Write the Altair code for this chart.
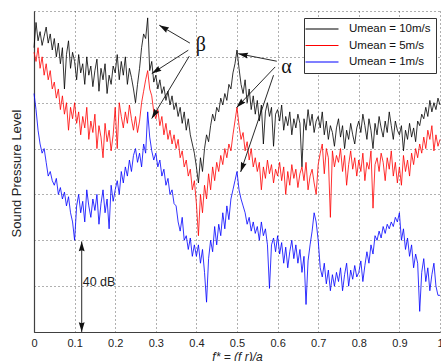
import math
import altair as alt
import pandas as pd

# ---------------- data ----------------
FREQ_STEP = 0.005
freq = [round(i * FREQ_STEP, 3) for i in range(201)]

spl_10ms = [
    124, 135, 127, 131, 125, 129, 133, 126, 130, 123,
    128, 120, 126, 117, 124, 106, 121, 127, 115, 122,
    118, 110, 121, 113, 117, 108, 120, 112, 116, 107,
    114, 119, 105, 115, 110, 117, 104, 112, 108, 116,
    113, 121, 110, 118, 112, 120, 108, 115, 111, 106,
    100, 108, 115, 124, 130, 128, 137, 114, 118, 109,
    112, 106, 110, 104, 107, 101, 105, 99, 103, 97,
    100, 94, 98, 91, 96, 88, 93, 86, 82, 78,
    72, 65, 76, 70, 80, 86, 83, 90, 95, 92,
    98, 96, 102, 99, 104, 101, 108, 106, 113, 117,
    123, 115, 108, 104, 110, 100, 106, 97, 103, 95,
    101, 92, 99, 82, 96, 100, 94, 98, 81, 95,
    97, 92, 99, 88, 94, 90, 96, 86, 93, 89,
    95, 91, 72, 93, 88, 97, 90, 95, 87, 92,
    94, 89, 96, 86, 92, 84, 90, 87, 81, 89,
    93, 85, 90, 80, 88, 84, 91, 86, 82, 89,
    92, 87, 95, 90, 84, 93, 88, 80, 91, 86,
    94, 89, 85, 92, 87, 96, 90, 84, 92, 88,
    86, 90, 79, 88, 84, 91, 85, 89, 83, 92,
    90, 95, 93, 98, 94, 101, 96, 100, 97, 102,
    99,
]

spl_5ms = [
    122, 118, 124, 115, 120, 112, 117, 110, 114, 106,
    109, 102, 106, 97, 103, 95, 100, 88, 98, 93,
    100, 91, 96, 86, 94, 89, 98, 84, 92, 87,
    95, 80, 90, 85, 76, 91, 83, 88, 79, 86,
    98, 80, 100, 94, 89, 96, 91, 99, 93, 88,
    94, 87, 92, 100, 105, 110, 114, 106, 103, 96,
    93, 97, 90, 94, 86, 91, 84, 88, 82, 86,
    80, 84, 76, 79, 72, 75, 68, 71, 62, 66,
    56, 42, 60, 52, 64, 58, 69, 62, 72, 66,
    74, 70, 77, 73, 80, 76, 82, 79, 86, 92,
    98, 90, 84, 87, 79, 83, 75, 80, 72, 76,
    70, 74, 62, 72, 67, 75, 69, 73, 65, 71,
    68, 74, 66, 72, 60, 70, 64, 73, 67, 71,
    63, 69, 72, 66, 74, 62, 68, 71, 65, 60,
    73, 78, 82, 69, 80, 76, 50, 79, 72, 77,
    74, 80, 70, 77, 64, 73, 79, 71, 76, 68,
    75, 70, 78, 66, 74, 71, 79, 54, 73, 76,
    70, 78, 74, 66, 76, 71, 79, 68, 74, 65,
    72, 64, 77, 70, 75, 68, 78, 73, 80, 76,
    82, 78, 85, 80, 88, 84, 90, 79, 86, 81,
    84,
]

spl_1ms = [
    104, 97, 88, 82, 78, 80, 74, 68, 70, 66,
    64, 67, 60, 63, 58, 61, 55, 59, 52, 48,
    40, 55, 60, 52, 57, 48, 62, 55, 50, 58,
    53, 60, 47, 56, 62, 52, 58, 45, 64, 57,
    62, 66, 60, 70, 65, 72, 68, 75, 70, 77,
    80, 74, 78, 72, 82, 78, 96, 85, 79, 75,
    78, 72, 75, 68, 71, 64, 67, 60, 62, 56,
    55, 48, 44, 50, 40, 42, 36, 41, 33, 38,
    33, 38, 30, 36, 26, 13, 32, 40, 35, 46,
    38, 47, 42, 52, 45, 55, 49, 58, 62, 66,
    70, 62, 58, 55, 52, 47, 50, 44, 48, 43,
    46, 40, 48, 42, 45, 38, 19, 38, 41, 35,
    42, 34, 39, 30, 37, 28, 35, 40, 32, 38,
    30, 36, 26, 33, 12, 31, 38, 44, 52, 48,
    40, 28, 24, 30, 21, 27, 18, 25, 20, 26,
    22, 28, 18, 25, 30, 20, 27, 23, 29, 24,
    26, 31, 22, 29, 35, 30, 38, 34, 42, 40,
    44, 41, 46, 43, 47, 45, 48, 46, 50, 48,
    52, 40, 45, 36, 41, 33, 38, 28, 34, 30,
    9, 26, 32, 22, 28, 18, 25, 30, 20, 16,
    16,
]

series_labels = ["Umean = 10m/s", "Umean = 5m/s", "Umean = 1m/s"]
series_colors = ["#000000", "#ff0000", "#0000ff"]
series_values = [spl_10ms, spl_5ms, spl_1ms]

x_tick_values = [0, 0.1, 0.2, 0.3, 0.4, 0.5, 0.6, 0.7, 0.8, 0.9, 1.0]
y_grid_values = [0, 20, 40, 60, 80, 100, 120, 140]

# annotation labels (data units)
label_f = [0.411, 0.622]
label_db = [122.4, 112.8]
label_text = ["β", "α"]

# annotation arrows: start -> tip (data units)
arrow_f1 = [0.384, 0.380, 0.3825, 0.598, 0.594, 0.590, 0.1175, 0.1175]
arrow_db1 = [126.0, 122.9, 120.3, 118.1, 115.6, 112.0, 20.0, 20.0]
arrow_f2 = [0.3086, 0.290, 0.290, 0.503, 0.499, 0.509, 0.1175, 0.1175]
arrow_db2 = [133.8, 112.7, 93.1, 121.4, 97.9, 69.8, 39.5, 0.0]

range_text_f = [0.12]
range_text_db = [21.9]
range_text = ["40 dB"]

# ---------------- layout ----------------
W, H = 406, 321
PX_PER_F = W / 1.0
PX_PER_DB = H / 140.0

for s in series_values:
    assert len(s) == len(freq)

lines_df = pd.concat(
    [pd.DataFrame({"f": freq, "db": vals, "series": lab})
     for lab, vals in zip(series_labels, series_values)],
    ignore_index=True,
)

arrows_df = pd.DataFrame({"f": arrow_f1, "db": arrow_db1, "f2": arrow_f2, "db2": arrow_db2})
heads = []
for a, b, c, d in zip(arrow_f1, arrow_db1, arrow_f2, arrow_db2):
    ang = math.degrees(math.atan2((c - a) * PX_PER_F, (d - b) * PX_PER_DB)) % 360
    heads.append({"f": c, "db": d, "angle": ang})
heads_df = pd.DataFrame(heads)
labels_df = pd.DataFrame({"f": label_f, "db": label_db, "text": label_text})
range_df = pd.DataFrame({"f": range_text_f, "db": range_text_db, "text": range_text})

x_scale = alt.Scale(domain=[0, 1], nice=False, zero=False)
y_scale = alt.Scale(domain=[0, 140], nice=False, zero=False)
color_scale = alt.Scale(domain=series_labels, range=series_colors)

x_enc = alt.X(
    "f:Q", scale=x_scale,
    axis=alt.Axis(
        values=x_tick_values, format="~g", grid=True, ticks=False,
        labelFlush=False, labelPadding=5, labelFontSize=11,
        labelFont="Liberation Sans", labelColor="#222222",
        title="f* = (f r)/a", titleFont="Liberation Sans", titleFontSize=12,
        titleFontStyle="italic", titleFontWeight="normal", titleColor="#222222",
        titleX=203, titleY=19, titleBaseline="top", titleAlign="center",
    ),
)
y_enc = alt.Y(
    "db:Q", scale=y_scale,
    axis=alt.Axis(
        values=y_grid_values, labels=False, ticks=False, grid=True,
        title="Sound Pressure Level", titleFont="Liberation Sans", titleFontSize=13,
        titleFontWeight="normal", titleColor="#222222", titleAngle=270,
        titleX=-18, titleY=162, titleBaseline="middle", titleAlign="center",
    ),
)

legend = alt.Legend(
    orient="none", legendX=270, legendY=7, title=None,
    symbolType="M-3.3,0L3.3,0", symbolSize=100, symbolStrokeWidth=1.2,
    symbolOffset=7, labelOffset=21,
    labelFont="Liberation Sans", labelFontSize=11.5, labelColor="#111111",
    strokeColor="#333333", fillColor="white", padding=5, rowPadding=4.5,
    cornerRadius=0,
)

layers = []
for lab in series_labels:
    layers.append(
        alt.Chart(lines_df[lines_df["series"] == lab])
        .mark_line(strokeWidth=0.8)
        .encode(
            x=x_enc, y=y_enc,
            color=alt.Color("series:N", scale=color_scale, legend=legend),
        )
    )

arrow_rules = alt.Chart(arrows_df).mark_rule(color="#111111", strokeWidth=0.9).encode(
    x=x_enc, y=y_enc, x2="f2:Q", y2="db2:Q"
)
arrow_heads = alt.Chart(heads_df).mark_point(
    shape="M0,0L0.6,2L0,1.8L-0.6,2Z", filled=True, size=95, color="#111111",
    opacity=1, strokeWidth=0,
).encode(x=x_enc, y=y_enc, angle=alt.Angle("angle:Q", scale=None))

greek = alt.Chart(labels_df).mark_text(
    font="Liberation Serif", fontSize=20, align="center", baseline="alphabetic", color="#111111"
).encode(x=x_enc, y=y_enc, text="text:N")

range_label = alt.Chart(range_df).mark_text(
    font="Liberation Sans", fontSize=12.5, align="left", baseline="middle", color="#222222"
).encode(x=x_enc, y=y_enc, text="text:N")

chart = (
    alt.layer(*layers, arrow_rules, arrow_heads, greek, range_label)
    .properties(
        width=W, height=H,
        autosize=alt.AutoSizeParams(type="none"),
        padding={"left": 34, "top": 11, "right": 1, "bottom": 29},
        background="white",
    )
    .configure_view(stroke=None)
    .configure_axis(
        domainColor="#404040", domainWidth=1.2,
        gridColor="#222222", gridDash=[1, 3], gridWidth=0.8, gridOpacity=0.9,
    )
)

chart.save("out.html", embed_options={"renderer": "svg", "actions": False})
